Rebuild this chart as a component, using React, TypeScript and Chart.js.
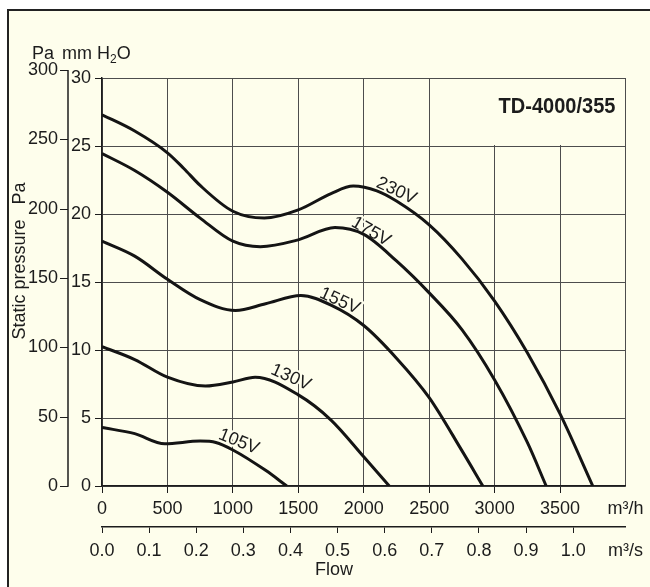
import { useEffect, useRef } from 'react';
import { Chart, registerables } from 'chart.js';

Chart.register(...registerables);

const FONT = '"Liberation Sans", Arial, Helvetica, sans-serif';
const INK = '#1c1c1c';
const GRID = '#4d4d4d';
const PAPER = '#fefeec';
const PA_PER_MM = 9.81;
const Q_MAX = 4000; // m3/h, right edge of the grid

// static pressure curves: flow in m3/h, pressure in mm H2O
const FLOW_230 = [0, 250, 500, 625, 750, 1000, 1240, 1500, 1750, 1920, 2100, 2250, 2500, 2750, 3000, 3250, 3500, 3750];
const PRES_230 = [27.3, 26.1, 24.5, 23.35, 22.1, 20.2, 19.7, 20.3, 21.5, 22.05, 21.7, 20.95, 19.2, 16.7, 13.6, 9.8, 5.3, 0];

const FLOW_175 = [0, 250, 500, 750, 1000, 1210, 1500, 1780, 2000, 2250, 2500, 2750, 3000, 3250, 3394];
const PRES_175 = [24.45, 23.2, 21.6, 19.7, 18.0, 17.6, 18.1, 19.0, 18.5, 16.55, 14.2, 11.5, 7.8, 3.2, 0];

const FLOW_155 = [0, 250, 500, 750, 1020, 1250, 1520, 1750, 2000, 2250, 2500, 2750, 2910];
const PRES_155 = [18.0, 16.9, 15.2, 13.7, 12.9, 13.4, 14.0, 13.3, 11.8, 9.4, 6.5, 2.6, 0];

const FLOW_130 = [0, 250, 500, 790, 1000, 1170, 1500, 1750, 2000, 2195];
const PRES_130 = [10.25, 9.3, 8.0, 7.35, 7.65, 8.0, 6.7, 4.85, 2.15, 0];

const FLOW_105 = [0, 250, 480, 750, 870, 1000, 1250, 1412];
const PRES_105 = [4.3, 3.85, 3.1, 3.3, 3.2, 2.65, 1.15, 0];

const SERIES = [
  { name: '230V', flow: FLOW_230, pres: PRES_230 },
  { name: '175V', flow: FLOW_175, pres: PRES_175 },
  { name: '155V', flow: FLOW_155, pres: PRES_155 },
  { name: '130V', flow: FLOW_130, pres: PRES_130 },
  { name: '105V', flow: FLOW_105, pres: PRES_105 },
];

// where each voltage label sits (flow, mm H2O, rotation in degrees)
const LABEL_AT: [string, number, number, number][] = [
  ['230V', 2250, 21.7, 25],
  ['175V', 2055, 18.7, 30],
  ['155V', 1816, 13.6, 24],
  ['130V', 1443, 7.98, 24],
  ['105V', 1045, 3.26, 22],
];

const MM_TICKS = [0, 5, 10, 15, 20, 25, 30];
const PA_TICKS = [0, 50, 100, 150, 200, 250, 300];
const FLOW_H_TICKS = [0, 500, 1000, 1500, 2000, 2500, 3000, 3500];
const FLOW_S_TICKS = [0, 0.1, 0.2, 0.3, 0.4, 0.5, 0.6, 0.7, 0.8, 0.9, 1.0];

const TITLE = 'TD-4000/355';

const decor = {
  id: 'decor',
  beforeDraw(chart: any) {
    const { ctx, width, height } = chart;
    ctx.save();
    ctx.fillStyle = '#ffffff';
    ctx.fillRect(0, 0, width, height);
    ctx.fillStyle = PAPER;
    ctx.fillRect(8, 10, width - 8, height - 10);
    ctx.fillStyle = '#222';
    ctx.fillRect(7, 9, 2, height - 9);
    ctx.fillRect(7, 9, width - 7, 2);
    ctx.restore();
  },
  beforeDatasetsDraw(chart: any) {
    const { ctx, chartArea } = chart;
    const xs = chart.scales.x;
    const ys = chart.scales.y;
    ctx.save();

    // title box hides the grid behind it
    const l = xs.getPixelForValue(2500) + 1;
    const r = xs.getPixelForValue(4000) - 1;
    const t = ys.getPixelForValue(30) + 1;
    const b = ys.getPixelForValue(25) - 1;
    ctx.fillStyle = PAPER;
    ctx.fillRect(l, t, r - l, b - t);

    ctx.font = `bold 22px ${FONT}`;
    const w = ctx.measureText(TITLE).width;
    ctx.save();
    ctx.translate(chartArea.right - 10, chartArea.top + 35);
    ctx.scale(117 / w, 1);
    ctx.textAlign = 'right';
    ctx.textBaseline = 'alphabetic';
    ctx.fillStyle = INK;
    ctx.fillText(TITLE, 0, 0);
    ctx.restore();

    // voltage labels
    ctx.font = `18px ${FONT}`;
    ctx.textAlign = 'center';
    ctx.textBaseline = 'middle';
    LABEL_AT.forEach(([text, q, p, deg]) => {
      ctx.save();
      ctx.translate(xs.getPixelForValue(q), ys.getPixelForValue(p));
      ctx.rotate((deg * Math.PI) / 180);
      ctx.lineWidth = 4;
      ctx.strokeStyle = PAPER;
      ctx.strokeText(text, 0, 0);
      ctx.fillStyle = INK;
      ctx.fillText(text, 0, 0);
      ctx.restore();
    });
    ctx.restore();
  },
  afterDraw(chart: any) {
    const { ctx, chartArea } = chart;
    const ys = chart.scales.y;
    ctx.save();
    ctx.fillStyle = INK;
    ctx.strokeStyle = INK;

    // Pa axis, same scale converted from mm H2O
    const ax = chartArea.left - 34;
    const top = ys.getPixelForValue(300 / PA_PER_MM);
    const bot = ys.getPixelForValue(0);
    ctx.lineWidth = 1.5;
    ctx.beginPath();
    ctx.moveTo(ax, top);
    ctx.lineTo(ax, bot + 0.75);
    ctx.stroke();
    ctx.font = `18px ${FONT}`;
    ctx.textAlign = 'right';
    ctx.textBaseline = 'middle';
    PA_TICKS.forEach((pa) => {
      const y = Math.round(ys.getPixelForValue(pa / PA_PER_MM)) + 0.5;
      ctx.lineWidth = 1;
      ctx.beginPath();
      ctx.moveTo(ax - 8, y);
      ctx.lineTo(ax, y);
      ctx.stroke();
      ctx.fillText(String(pa), ax - 10, y);
    });

    // unit header
    ctx.textAlign = 'left';
    ctx.textBaseline = 'alphabetic';
    ctx.fillText('Pa', 32, 59);
    let x = 62;
    ctx.fillText('mm H', x, 59);
    x += ctx.measureText('mm H').width;
    ctx.font = `12px ${FONT}`;
    ctx.fillText('2', x, 63);
    x += ctx.measureText('2').width;
    ctx.font = `18px ${FONT}`;
    ctx.fillText('O', x, 59);

    // side title
    ctx.save();
    ctx.translate(20.5, 261);
    ctx.rotate(-Math.PI / 2);
    ctx.textAlign = 'center';
    ctx.textBaseline = 'middle';
    ctx.fillText('Static pressure   Pa', 0, 0);
    ctx.restore();

    // flow title
    ctx.textAlign = 'center';
    ctx.textBaseline = 'middle';
    ctx.fillText('Flow', chartArea.left + 232, 570);
    ctx.restore();
  },
};

export default function App() {
  const canvasRef = useRef<HTMLCanvasElement>(null);
  const chartRef = useRef<Chart | null>(null);

  useEffect(() => {
    if (!canvasRef.current) return;
    if (chartRef.current) chartRef.current.destroy();

    const tickFont = { family: FONT, size: 18 };
    const sMax = Q_MAX / 3600;

    chartRef.current = new Chart(canvasRef.current, {
      type: 'line',
      data: {
        datasets: SERIES.map((s) => ({
          label: s.name,
          data: s.flow.map((q, i) => ({ x: q, y: s.pres[i] })),
          borderColor: '#141414',
          borderWidth: 3,
          pointRadius: 0,
          fill: false,
          cubicInterpolationMode: 'monotone' as const,
          xAxisID: 'x',
          yAxisID: 'y',
        })),
      },
      options: {
        responsive: false,
        animation: false,
        events: [],
        layout: { padding: { left: 68, right: 22, top: 78, bottom: 0 } },
        scales: {
          x: {
            type: 'linear',
            position: 'bottom',
            weight: 0,
            min: 0,
            max: Q_MAX,
            afterBuildTicks: (axis: any) => {
              axis.ticks = [...FLOW_H_TICKS, Q_MAX].map((v) => ({ value: v }));
            },
            afterFit: (axis: any) => {
              axis.height = 41;
            },
            grid: {
              color: GRID,
              lineWidth: 1,
              tickLength: 7,
              tickColor: (c: any) => (c.tick && c.tick.value === Q_MAX ? 'rgba(0,0,0,0)' : INK),
            },
            border: { display: true, color: INK, width: 1.5 },
            ticks: {
              color: INK,
              font: tickFont,
              padding: 5,
              maxRotation: 0,
              autoSkip: false,
              callback: (v: any) => (v === Q_MAX ? 'm³/h' : String(v)),
            },
          },
          x2: {
            type: 'linear',
            position: 'bottom',
            weight: 1,
            min: 0,
            max: sMax,
            afterBuildTicks: (axis: any) => {
              axis.ticks = [...FLOW_S_TICKS, sMax].map((v) => ({ value: v }));
            },
            afterFit: (axis: any) => {
              axis.height = 60;
            },
            grid: {
              drawOnChartArea: false,
              color: INK,
              tickLength: 6,
              tickColor: (c: any) => (c.tick && c.tick.value > 1.05 ? 'rgba(0,0,0,0)' : INK),
            },
            border: { display: true, color: INK, width: 1.5 },
            ticks: {
              color: INK,
              font: tickFont,
              padding: 7,
              maxRotation: 0,
              autoSkip: false,
              callback: (v: any) => (v > 1.05 ? 'm³/s' : Number(v).toFixed(1)),
            },
          },
          y: {
            type: 'linear',
            position: 'left',
            min: 0,
            max: 30,
            afterBuildTicks: (axis: any) => {
              axis.ticks = MM_TICKS.map((v) => ({ value: v }));
            },
            afterFit: (axis: any) => {
              axis.width = 34;
            },
            grid: { color: GRID, lineWidth: 1, tickLength: 7, tickColor: INK },
            border: { display: true, color: INK, width: 1.5 },
            ticks: { color: INK, font: tickFont, padding: 4 },
          },
        },
        plugins: {
          legend: { display: false },
          tooltip: { enabled: false },
        },
      },
      plugins: [decor],
    });

    return () => {
      if (chartRef.current) chartRef.current.destroy();
      chartRef.current = null;
    };
  }, []);

  return (
    <div style={{ position: 'fixed', left: 0, top: 0, width: 650, height: 587 }}>
      <canvas ref={canvasRef} width={650} height={587} style={{ display: 'block' }} />
    </div>
  );
}
